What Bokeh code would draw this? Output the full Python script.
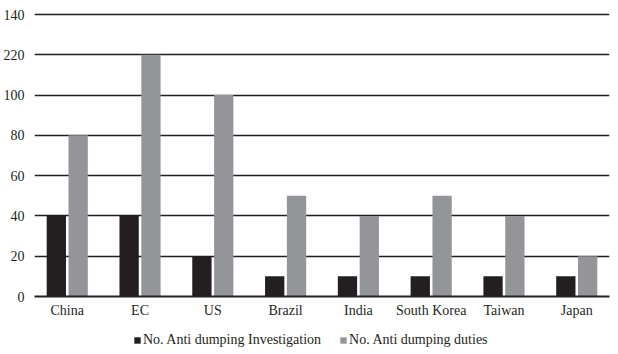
from bokeh.plotting import figure
from bokeh.layouts import column
from bokeh.models import (ColumnDataSource, FactorRange, Range1d, FixedTicker,
                          Legend, LegendItem)
from bokeh.transform import dodge
from bokeh.embed import file_html
from bokeh.resources import INLINE

categories = ["China", "EC", "US", "Brazil", "India", "South Korea", "Taiwan", "Japan"]
investigations = [40, 40, 20, 10, 10, 10, 10, 10]
duties = [80, 120, 100, 50, 40, 50, 40, 20]
y_ticks = [0, 20, 40, 60, 80, 100, 120, 140]
y_tick_labels = ["0", "20", "40", "60", "80", "100", "220", "140"]
series_names = ["No. Anti dumping Investigation", "No. Anti dumping duties"]

src = ColumnDataSource(dict(cat=categories, inv=investigations, dut=duties))

FONT = "Liberation Serif"
DARK = "#231f20"
GRAY = "#939598"

xr = FactorRange(*categories, range_padding=-0.05, range_padding_units="absolute")

p = figure(width=618, height=322, output_backend="svg", toolbar_location=None,
           x_range=xr, y_range=Range1d(0, 141),
           min_border_left=33, min_border_right=9, min_border_top=12, min_border_bottom=26)
p.outline_line_color = None
p.background_fill_color = "white"
p.border_fill_color = "white"

p.vbar(x=dodge("cat", -0.15, range=xr), top="inv", width=0.265, source=src,
       fill_color=DARK, line_color=None)
p.vbar(x=dodge("cat", 0.15, range=xr), top="dut", width=0.265, source=src,
       fill_color=GRAY, line_color=None)

p.yaxis.ticker = FixedTicker(ticks=y_ticks)
p.yaxis.major_label_overrides = {t: l for t, l in zip(y_ticks, y_tick_labels)}
p.yaxis.axis_line_color = None
p.yaxis.major_tick_line_color = None
p.yaxis.minor_tick_line_color = None
p.yaxis.major_label_standoff = 4
p.yaxis.major_label_text_font = FONT
p.yaxis.major_label_text_font_size = "14px"
p.yaxis.major_label_text_color = DARK

p.xaxis.axis_line_color = DARK
p.xaxis.axis_line_width = 2
p.xaxis.major_tick_line_color = None
p.xaxis.minor_tick_line_color = None
p.xaxis.major_tick_out = 0
p.xaxis.major_label_standoff = 6
p.xaxis.major_label_text_font = FONT
p.xaxis.major_label_text_font_size = "14px"
p.xaxis.major_label_text_color = DARK

p.xgrid.grid_line_color = None
p.ygrid.grid_line_color = DARK
p.ygrid.grid_line_width = 1.5

# legend strip below the chart (its renderers are hidden; only the legend shows)
lg = figure(width=618, height=32, output_backend="svg", toolbar_location=None,
            x_axis_type=None, y_axis_type=None,
            x_range=xr, y_range=Range1d(1000, 1001),
            min_border_left=33, min_border_right=9, min_border_top=0, min_border_bottom=0)
lg.outline_line_color = None
lg.background_fill_color = "white"
lg.border_fill_color = "white"
lg.xgrid.grid_line_color = None
lg.ygrid.grid_line_color = None
d1 = lg.vbar(x=dodge("cat", -0.15, range=xr), top="inv", width=0.265, source=src,
             fill_color=DARK, line_color=None, visible=False)
d2 = lg.vbar(x=dodge("cat", 0.15, range=xr), top="dut", width=0.265, source=src,
             fill_color=GRAY, line_color=None, visible=False)

legend = Legend(items=[LegendItem(label=series_names[0], renderers=[d1]),
                       LegendItem(label=series_names[1], renderers=[d2])],
                orientation="horizontal", location=(99, 6),
                glyph_width=8, glyph_height=8, label_standoff=2, spacing=18,
                label_text_font=FONT, label_text_font_size="14px", label_text_color=DARK,
                border_line_color=None, background_fill_alpha=0,
                padding=0, margin=0)
lg.add_layout(legend)

layout = column(p, lg, spacing=0)
open("out.html", "w").write(file_html(layout, INLINE))
